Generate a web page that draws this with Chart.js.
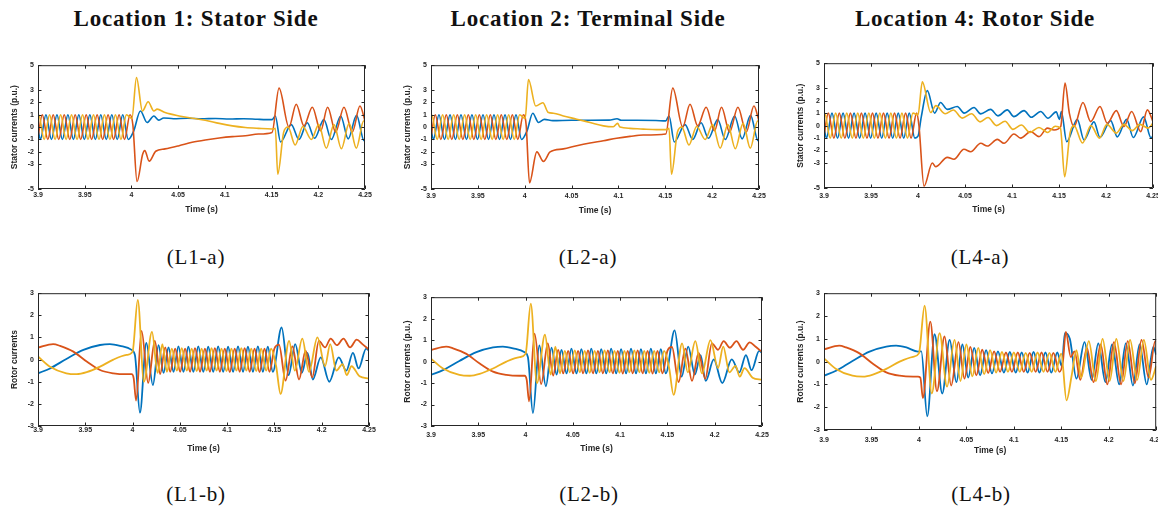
<!DOCTYPE html>
<html>
<head>
<meta charset="utf-8">
<script src="https://cdn.jsdelivr.net/npm/chart.js@4.4.0/dist/chart.umd.min.js"></script>
<style>
  html, body { margin: 0; padding: 0; background: #fff; overflow: hidden; }
  #page { position: relative; width: 1158px; height: 512px; }
  .head { position: absolute; top: 6px; font-family: "Liberation Serif", "DejaVu Serif", serif; font-weight: bold;
          font-size: 23px; letter-spacing: 0.8px; transform: translateX(-50%); white-space: nowrap; color: #111; }
  .cap { position: absolute; font-family: "Liberation Serif", "DejaVu Serif", serif; font-size: 21px; letter-spacing: 0.8px;
         transform: translateX(-50%); white-space: nowrap; color: #111; }
  canvas { position: absolute; }
</style>
</head>
<body>
<div id="page">
  <div class="head" style="left:196px">Location 1: Stator Side</div>
  <div class="head" style="left:588px">Location 2: Terminal Side</div>
  <div class="head" style="left:975px">Location 4: Rotor Side</div>

  <canvas id="l1a"></canvas>
  <canvas id="l2a"></canvas>
  <canvas id="l4a"></canvas>
  <canvas id="l1b"></canvas>
  <canvas id="l2b"></canvas>
  <canvas id="l4b"></canvas>

  <div class="cap" style="left:196px;top:245px">(L1-a)</div>
  <div class="cap" style="left:588px;top:245px">(L2-a)</div>
  <div class="cap" style="left:980px;top:245px">(L4-a)</div>
  <div class="cap" style="left:196px;top:482px">(L1-b)</div>
  <div class="cap" style="left:589px;top:482px">(L2-b)</div>
  <div class="cap" style="left:981px;top:482px">(L4-b)</div>
</div>

<script>
// axes
const timeTicks = [3.9, 3.95, 4, 4.05, 4.1, 4.15, 4.2, 4.25];
const statorTicks = [-5, -3, -2, -1, 0, 1, 2, 3, 5];
const rotorTicks = [-3, -2, -1, 0, 1, 2, 3];

// stator currents, pre-fault (same in all three locations)
const statorPreBlue = [[3.9,-0.14],[3.9026,-1],[3.9085,1],[3.9144,-1],[3.9203,1],[3.9261,-1],[3.9320,1],[3.9379,-1],[3.9437,1],
  [3.9496,-1],[3.9555,1],[3.9614,-1],[3.9672,1],[3.9731,-1],[3.9790,1],[3.9848,-1],[3.9907,1],[3.9966,-1]];
const statorPreOrange = [[3.9,-0.78],[3.9046,1],[3.9105,-1],[3.9163,1],[3.9222,-1],[3.9281,1],[3.9340,-1],[3.9398,1],[3.9457,-1],
  [3.9516,1],[3.9574,-1],[3.9633,1],[3.9692,-1],[3.9750,1],[3.9809,-1],[3.9868,1],[3.9926,-1],[3.9985,1]];
const statorPreYellow = [[3.9,0.99],[3.9007,1],[3.9066,-1],[3.9124,1],[3.9183,-1],[3.9242,1],[3.9301,-1],[3.9359,1],[3.9418,-1],
  [3.9477,1],[3.9535,-1],[3.9594,1],[3.9653,-1],[3.9711,1],[3.9770,-1],[3.9829,1],[3.9888,-1],[3.9946,1]];

// L1-a, fault 4.0 - 4.15
const l1aFaultBlue = [[4.0025,-0.3],[4.0096,1.3],[4.0168,0.37],[4.024,0.9],[4.029,0.56],[4.0346,0.74],[4.045,0.68],[4.06,0.72],
  [4.075,0.67],[4.09,0.7],[4.105,0.65],[4.12,0.68],[4.135,0.63],[4.1505,0.6]];
const l1aFaultOrange = [[4.0015,0.2],[4.006,-4.4],[4.012,-2.2],[4.0143,-1.9],[4.019,-2.75],[4.026,-1.95],[4.036,-1.76],[4.051,-1.5],
  [4.065,-1.23],[4.079,-1.04],[4.094,-0.88],[4.108,-0.77],[4.122,-0.7],[4.136,-0.56],[4.1505,-0.43]];
const l1aFaultYellow = [[4.0005,0.7],[4.0054,4.0],[4.0118,1.3],[4.0179,2.05],[4.024,1.3],[4.0275,1.45],[4.036,1.17],[4.051,0.9],
  [4.065,0.72],[4.079,0.56],[4.094,0.3],[4.108,0.1],[4.122,-0.03],[4.136,-0.1],[4.1505,-0.15]];

// L2-a, fault 4.0 - 4.15
const l2aFaultBlue = [[4.0025,-0.3],[4.0086,1.12],[4.0147,0.37],[4.021,0.62],[4.03,0.52],[4.05,0.55],[4.07,0.55],[4.09,0.56],
  [4.0985,0.68],[4.103,0.55],[4.12,0.55],[4.14,0.53],[4.1505,0.5]];
const l2aFaultOrange = [[4.0015,0.2],[4.0051,-4.5],[4.0129,-2.0],[4.02,-2.77],[4.0271,-2.0],[4.0413,-1.76],[4.0555,-1.5],
  [4.0697,-1.28],[4.0839,-1.1],[4.0981,-0.9],[4.1123,-0.75],[4.1265,-0.64],[4.1505,-0.56]];
const l2aFaultYellow = [[4.0005,0.7],[4.004,3.84],[4.0118,1.7],[4.0193,1.97],[4.0253,1.17],[4.0306,1.12],[4.0413,0.9],[4.0555,0.64],
  [4.0697,0.37],[4.0839,0.1],[4.0945,0.03],[4.0991,0.3],[4.1016,0.0],[4.1123,-0.1],[4.1265,-0.16],[4.1407,-0.2],[4.1505,-0.2]];

// L1-a / L2-a, after clearing 4.15 - 4.25
const clearBlue = [[4.154,0.9],[4.1596,-1.2],[4.1711,0.2],[4.1793,-1.0],[4.1882,0.35],[4.196,-0.9],[4.206,0.6],[4.214,-1.0],
  [4.224,0.9],[4.232,-0.95],[4.241,0.95],[4.249,-1.1],[4.25,-1.0]];
const clearOrange = [[4.158,3.15],[4.1686,0.0],[4.1764,1.85],[4.1846,0.1],[4.1936,1.6],[4.2025,-0.3],[4.21,1.6],[4.2186,-0.4],
  [4.2275,1.6],[4.2364,-0.4],[4.2446,1.7],[4.25,0.5]];
const clearYellow = [[4.154,-0.1],[4.1566,-3.8],[4.163,-0.4],[4.1677,0.0],[4.1752,-1.45],[4.1835,0.05],[4.1926,-1.0],[4.2005,0.2],
  [4.2086,-1.7],[4.2168,0.2],[4.2247,-1.75],[4.233,0.3],[4.2407,-1.7],[4.2486,0.5],[4.25,0.45]];

// L4-a
const l4aFaultBlue = [[4.0,-0.85],[4.0035,0.7],[4.0099,2.8],[4.0177,1.0],[4.024,1.85],[4.031,1.3],[4.0418,1.53],[4.049,1.0],
  [4.0596,1.45],[4.0667,0.94],[4.0773,1.3],[4.085,0.78],[4.095,1.26],[4.102,0.72],[4.1128,1.2],[4.1206,0.67],[4.1305,1.13],
  [4.1383,0.59],[4.147,1.1],[4.1505,0.5]];
const l4aFaultOrange = [[4.001,0.0],[4.0064,-4.85],[4.0152,-3.0],[4.0188,-3.3],[4.0312,-2.55],[4.0383,-2.7],[4.0489,-1.9],
  [4.056,-2.1],[4.0667,-1.42],[4.0738,-1.64],[4.0844,-1.1],[4.0915,-1.42],[4.1021,-0.67],[4.1092,-1.0],[4.1199,-0.48],
  [4.1287,-0.88],[4.1376,-0.2],[4.1447,-0.35],[4.1518,-0.08]];
const l4aFaultYellow = [[4.0,0.86],[4.0046,3.5],[4.0135,1.05],[4.019,1.6],[4.029,0.95],[4.0376,1.25],[4.047,0.6],[4.057,0.95],
  [4.066,0.3],[4.0745,0.65],[4.0835,0.0],[4.0926,0.35],[4.101,-0.3],[4.11,0.05],[4.119,-0.55],[4.1287,-0.15],[4.138,-0.55],
  [4.146,-0.05],[4.1515,-0.2]];
const l4aClearBlue = [[4.1525,1.13],[4.1582,-1.29],[4.1695,0.5],[4.1766,-1.15],[4.1872,0.3],[4.1936,-0.95],[4.205,0.4],[4.212,-0.9],
  [4.222,0.5],[4.229,-0.95],[4.24,0.7],[4.248,-1.0],[4.25,-0.8]];
const l4aClearOrange = [[4.1564,3.4],[4.161,1.0],[4.166,-0.08],[4.1755,1.85],[4.1837,0.32],[4.1936,1.53],[4.2014,0.19],[4.211,1.2],
  [4.219,-0.08],[4.2273,1.13],[4.2369,-0.48],[4.244,1.26],[4.25,0.32]];
const l4aClearYellow = [[4.156,-4.1],[4.1617,-0.6],[4.166,0.0],[4.175,-1.4],[4.184,0.0],[4.193,-1.0],[4.201,0.1],[4.211,-0.6],
  [4.219,0.1],[4.228,-0.4],[4.236,0.1],[4.245,-0.2],[4.25,0.2]];

// rotor currents, pre-fault (same in all three locations)
const rotorPreBlue = [[3.9,-0.62],[3.9127,-0.4],[3.93,0.03],[3.948,0.44],[3.9656,0.66],[3.976,0.7],[3.9868,0.62],[3.999,0.44]];
const rotorPreOrange = [[3.9,0.54],[3.916,0.7],[3.9233,0.62],[3.9374,0.36],[3.9515,-0.09],[3.9656,-0.47],[3.9797,-0.62],
  [3.9938,-0.66],[3.999,-0.66]];
const rotorPreYellow = [[3.9,0.14],[3.9127,-0.32],[3.93,-0.62],[3.941,-0.66],[3.9515,-0.57],[3.9656,-0.32],[3.9797,0.0],
  [3.9938,0.21],[4.0,0.36]];

// L1-b (L2-b reads the same)
const l1bBlue = [[4.0025,0.2],[4.0078,-2.4],[4.0145,0.75],[4.0215,-1.15],[4.0275,0.65],[4.0328,-0.6],[4.038,0.55],[4.0433,-0.55],
  [4.0485,0.6],[4.0538,-0.55],[4.059,0.58],[4.0643,-0.55],[4.0695,0.6],[4.0748,-0.55],[4.08,0.58],[4.0853,-0.55],[4.0905,0.6],
  [4.0958,-0.55],[4.101,0.58],[4.1063,-0.55],[4.1115,0.6],[4.1168,-0.55],[4.122,0.58],[4.1273,-0.55],[4.1325,0.6],[4.1378,-0.55],
  [4.143,0.58],[4.1483,-0.55],[4.1576,1.45],[4.165,-0.7],[4.172,0.7],[4.179,-0.6],[4.185,0.3],[4.1905,-0.9],[4.199,0.1],
  [4.208,-1.0],[4.218,0.1],[4.226,-0.5],[4.233,0.3],[4.239,-0.4],[4.247,0.5],[4.25,0.4]];
const l1bOrange = [[4.0012,-0.85],[4.0037,-1.85],[4.0095,1.3],[4.0165,-1.05],[4.0235,0.85],[4.0292,-0.65],[4.0345,0.55],
  [4.0398,-0.55],[4.045,0.5],[4.0503,-0.55],[4.0555,0.5],[4.0608,-0.55],[4.066,0.52],[4.0713,-0.55],[4.0765,0.5],[4.0818,-0.55],
  [4.087,0.52],[4.0923,-0.55],[4.0975,0.5],[4.1028,-0.56],[4.108,0.5],[4.1133,-0.55],[4.1185,0.52],[4.1238,-0.55],[4.129,0.5],
  [4.1343,-0.56],[4.1395,0.5],[4.1448,-0.55],[4.15,0.5],[4.1548,0.68],[4.1618,-0.95],[4.169,0.6],[4.176,-0.9],[4.183,0.4],
  [4.19,-0.8],[4.197,0.85],[4.2035,0.55],[4.2095,0.95],[4.216,0.65],[4.223,0.95],[4.23,0.55],[4.237,0.9],[4.243,0.7],[4.25,0.45]];
const l1bYellow = [[4.0055,2.7],[4.012,-1.0],[4.0205,1.25],[4.0265,-0.6],[4.0315,0.7],[4.0363,-0.55],[4.0415,0.5],[4.0468,-0.5],
  [4.052,0.52],[4.0573,-0.5],[4.0625,0.5],[4.0678,-0.52],[4.073,0.5],[4.0783,-0.5],[4.0835,0.52],[4.0888,-0.5],[4.094,0.5],
  [4.0993,-0.52],[4.1045,0.5],[4.1098,-0.5],[4.115,0.52],[4.1203,-0.5],[4.1255,0.5],[4.1308,-0.52],[4.136,0.5],[4.1413,-0.5],
  [4.1465,0.5],[4.1518,-0.3],[4.1565,-1.55],[4.1655,0.85],[4.1715,-0.5],[4.1795,0.95],[4.1865,-0.55],[4.1955,1.0],[4.2035,-0.3],
  [4.209,0.7],[4.2155,-0.5],[4.222,-0.2],[4.2265,-0.7],[4.2315,-0.3],[4.24,-0.75],[4.25,-0.85]];

// L4-b
const l4bBlue = [[4.0025,0.45],[4.0088,-2.4],[4.0165,1.2],[4.0246,-1.4],[4.0324,0.95],[4.0395,-0.9],[4.0458,0.75],[4.052,-0.7],
  [4.0583,0.6],[4.0645,-0.6],[4.0708,0.5],[4.077,-0.52],[4.0833,0.45],[4.0895,-0.48],[4.0958,0.42],[4.102,-0.48],[4.1083,0.4],
  [4.1145,-0.48],[4.1208,0.42],[4.127,-0.48],[4.1333,0.4],[4.1395,-0.48],[4.1458,0.4],[4.1505,-0.2],[4.1538,1.25],[4.159,1.0],
  [4.166,-0.75],[4.1745,0.85],[4.182,-0.8],[4.189,0.8],[4.1965,-0.9],[4.2035,0.75],[4.211,-1.0],[4.218,0.8],[4.2255,-1.05],
  [4.2325,0.75],[4.24,-1.0],[4.247,0.65],[4.25,0.3]];
const l4bOrange = [[4.0015,-0.7],[4.0042,-1.6],[4.012,1.75],[4.019,-1.3],[4.027,1.1],[4.034,-1.05],[4.0417,0.85],[4.048,-0.75],
  [4.0542,0.65],[4.0605,-0.6],[4.0667,0.52],[4.073,-0.5],[4.0792,0.45],[4.0855,-0.45],[4.0917,0.4],[4.098,-0.45],[4.1042,0.4],
  [4.1105,-0.45],[4.1167,0.38],[4.123,-0.45],[4.1292,0.4],[4.1355,-0.45],[4.1417,0.38],[4.148,-0.45],[4.1517,0.0],[4.1548,1.3],
  [4.16,0.2],[4.164,0.45],[4.17,-0.8],[4.177,0.6],[4.184,-0.9],[4.1915,0.75],[4.1985,-1.0],[4.2055,0.85],[4.213,-1.0],[4.22,0.9],
  [4.2275,-0.95],[4.2345,0.95],[4.242,-0.7],[4.249,0.9],[4.25,0.88]];
const l4bYellow = [[4.006,2.45],[4.0135,-1.4],[4.0218,1.25],[4.0296,-1.1],[4.0375,0.95],[4.0438,-0.85],[4.05,0.75],[4.0563,-0.65],
  [4.0625,0.6],[4.0688,-0.55],[4.075,0.5],[4.0813,-0.48],[4.0875,0.42],[4.0938,-0.45],[4.1,0.4],[4.1063,-0.45],[4.1125,0.38],
  [4.1188,-0.45],[4.125,0.4],[4.1313,-0.45],[4.1375,0.38],[4.1438,-0.45],[4.15,0.35],[4.1555,-1.7],[4.161,-0.6],[4.166,0.5],
  [4.171,-0.7],[4.179,0.9],[4.1865,-0.85],[4.1935,1.0],[4.201,-0.85],[4.208,1.0],[4.2155,-0.85],[4.2225,0.95],[4.23,-0.8],
  [4.237,0.95],[4.2445,-0.8],[4.25,-0.2]];

const BLUE = '#0072BD', ORANGE = '#D95319', YELLOW = '#EDB120', AXIS = '#262626';
const SANS = '"Liberation Sans", Arial, sans-serif';

// MATLAB-like box with inward ticks
const boxPlugin = {
  id: 'box',
  afterDatasetsDraw(chart) {
    const {ctx, chartArea: a, scales: {x, y}} = chart;
    const tl = 3.5;
    ctx.save();
    ctx.strokeStyle = AXIS;
    ctx.lineWidth = 1;
    ctx.beginPath();
    ctx.rect(a.left + 0.5, a.top + 0.5, a.right - a.left - 1, a.bottom - a.top - 1);
    x.ticks.forEach(t => {
      const p = Math.round(x.getPixelForValue(t.value)) + 0.5;
      ctx.moveTo(p, a.bottom); ctx.lineTo(p, a.bottom - tl);
      ctx.moveTo(p, a.top); ctx.lineTo(p, a.top + tl);
    });
    y.ticks.forEach(t => {
      const p = Math.round(y.getPixelForValue(t.value)) + 0.5;
      ctx.moveTo(a.left, p); ctx.lineTo(a.left + tl, p);
      ctx.moveTo(a.right, p); ctx.lineTo(a.right - tl, p);
    });
    ctx.stroke();
    ctx.restore();
  }
};

function line(data, color, order, width) {
  return {data, borderColor: color, borderWidth: width, pointRadius: 0, fill: false,
          cubicInterpolationMode: 'monotone', order};
}

function panel(id, frame, cfg) {
  const padL = 38, padT = 8, padR = 12, axisH = 28;
  const w = frame.right - frame.left, h = frame.bottom - frame.top;
  const cv = document.getElementById(id);
  cv.width = w + padL + padR;
  cv.height = h + padT + axisH;
  cv.style.left = (frame.left - padL) + 'px';
  cv.style.top = (frame.top - padT) + 'px';

  new Chart(cv, {
    type: 'line',
    data: {
      datasets: [
        line(cfg.blue, BLUE, 2, cfg.lw),
        line(cfg.orange, ORANGE, 1, cfg.lw),
        line(cfg.yellow, YELLOW, 0, cfg.lw)
      ]
    },
    options: {
      responsive: false,
      animation: false,
      events: [],
      layout: {padding: {left: 0, top: padT, right: padR, bottom: 0}},
      plugins: {legend: {display: false}, tooltip: {enabled: false}},
      scales: {
        x: {
          type: 'linear', min: 3.9, max: 4.25,
          afterBuildTicks: s => { s.ticks = timeTicks.map(v => ({value: v})); },
          afterFit: s => { s.height = axisH; },
          grid: {display: false, drawTicks: false}, border: {display: false},
          ticks: {padding: cfg.tickPad, color: AXIS, font: {family: SANS, size: 7, weight: 'bold'},
                  maxRotation: 0, autoSkip: false, callback: v => String(v)},
          title: {display: true, text: 'Time (s)', color: AXIS,
                  font: {family: SANS, size: 8.5, weight: 'bold'}, padding: {top: 0, bottom: cfg.titlePad}}
        },
        y: {
          type: 'linear', min: cfg.yTicks[0], max: cfg.yTicks[cfg.yTicks.length - 1],
          afterBuildTicks: s => { s.ticks = cfg.yTicks.map(v => ({value: v})); },
          afterFit: s => { s.width = padL; },
          grid: {display: false, drawTicks: false}, border: {display: false},
          ticks: {padding: 4, color: AXIS, font: {family: SANS, size: 7, weight: 'bold'},
                  autoSkip: false, callback: v => String(v)},
          title: {display: true, text: cfg.yTitle, color: AXIS,
                  font: {family: SANS, size: 8.5, weight: 'bold'}, padding: {top: 10, bottom: 0}}
        }
      }
    },
    plugins: [boxPlugin]
  });
}

const statorTitle = 'Stator currents (p.u.)';

panel('l1a', {left: 38, top: 65, right: 365, bottom: 189}, {
  yTicks: statorTicks, yTitle: statorTitle, tickPad: 2, titlePad: 2, lw: 1.6,
  blue: statorPreBlue.concat(l1aFaultBlue, clearBlue),
  orange: statorPreOrange.concat(l1aFaultOrange, clearOrange),
  yellow: statorPreYellow.concat(l1aFaultYellow, clearYellow)
});
panel('l2a', {left: 431, top: 65, right: 759, bottom: 189}, {
  yTicks: statorTicks, yTitle: statorTitle, tickPad: 2.5, titlePad: 1.2, lw: 1.6,
  blue: statorPreBlue.concat(l2aFaultBlue, clearBlue),
  orange: statorPreOrange.concat(l2aFaultOrange, clearOrange),
  yellow: statorPreYellow.concat(l2aFaultYellow, clearYellow)
});
panel('l4a', {left: 824, top: 63, right: 1153, bottom: 188}, {
  yTicks: statorTicks, yTitle: statorTitle, tickPad: 3.5, titlePad: 1, lw: 1.6,
  blue: statorPreBlue.concat(l4aFaultBlue, l4aClearBlue),
  orange: statorPreOrange.concat(l4aFaultOrange, l4aClearOrange),
  yellow: statorPreYellow.concat(l4aFaultYellow, l4aClearYellow)
});
panel('l1b', {left: 38, top: 293, right: 369, bottom: 426}, {
  yTicks: rotorTicks, yTitle: 'Rotor currents', tickPad: 0, titlePad: 0.7, lw: 1.8,
  blue: rotorPreBlue.concat(l1bBlue), orange: rotorPreOrange.concat(l1bOrange), yellow: rotorPreYellow.concat(l1bYellow)
});
panel('l2b', {left: 431, top: 297, right: 762, bottom: 426}, {
  yTicks: rotorTicks, yTitle: 'Rotor currents (p.u.)', tickPad: 4.8, titlePad: 0.7, lw: 1.8,
  blue: rotorPreBlue.concat(l1bBlue), orange: rotorPreOrange.concat(l1bOrange), yellow: rotorPreYellow.concat(l1bYellow)
});
panel('l4b', {left: 824, top: 293, right: 1157, bottom: 430}, {
  yTicks: rotorTicks, yTitle: 'Rotor currents (p.u.)', tickPad: 6, titlePad: 2.2, lw: 1.8,
  blue: rotorPreBlue.concat(l4bBlue), orange: rotorPreOrange.concat(l4bOrange), yellow: rotorPreYellow.concat(l4bYellow)
});
</script>
</body>
</html>
